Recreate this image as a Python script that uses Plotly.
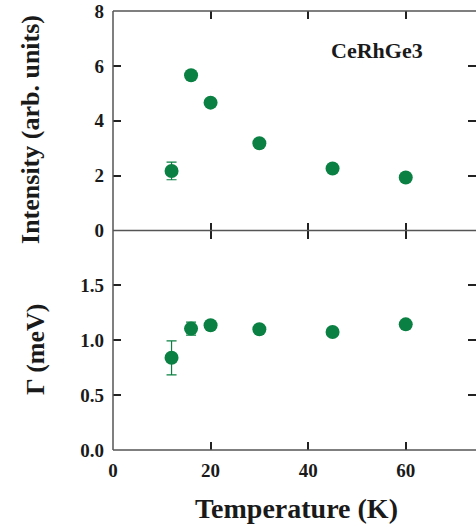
import plotly.graph_objects as go
from plotly.subplots import make_subplots

# Data
temperature = [12, 16, 20, 30, 45, 60]
intensity = [2.17, 5.66, 4.66, 3.18, 2.26, 1.93]
intensity_err = [0.32, 0, 0, 0, 0, 0]
gamma = [0.84, 1.106, 1.136, 1.10, 1.075, 1.145]
gamma_err = [0.155, 0.06, 0, 0, 0, 0]

x_ticks = [0, 20, 40, 60]
y1_ticks = [0, 2, 4, 6, 8]
y2_ticks = [0.0, 0.5, 1.0, 1.5]
y2_ticklabels = ["0.0", "0.5", "1.0", "1.5"]

GREEN = "#0a8043"
LINE = "#555555"
TICK = "#222222"
FONT = "Liberation Serif"

fig = make_subplots(rows=2, cols=1, shared_xaxes=True, vertical_spacing=0)

fig.add_trace(go.Scatter(
    x=temperature, y=intensity, mode="markers",
    marker=dict(color=GREEN, size=14),
    error_y=dict(type="data", array=intensity_err, color=GREEN, thickness=1.2, width=5),
    showlegend=False), row=1, col=1)

fig.add_trace(go.Scatter(
    x=temperature, y=gamma, mode="markers",
    marker=dict(color=GREEN, size=14),
    error_y=dict(type="data", array=gamma_err, color=GREEN, thickness=1.2, width=5),
    showlegend=False), row=2, col=1)

tickfont = dict(family=FONT, size=19, color="#1a1a1a", weight="bold")

for r in (1, 2):
    fig.update_xaxes(range=[0, 74.4], tickvals=x_ticks, ticks="inside", ticklen=8,
                     tickcolor=TICK, tickwidth=1.5,
                     showline=False, mirror="ticks",
                     showgrid=False, zeroline=False, tickfont=tickfont,
                     ticklabelstandoff=7, row=r, col=1)

fig.update_xaxes(showticklabels=False, row=1, col=1)

fig.update_yaxes(range=[0, 8], tickvals=y1_ticks, row=1, col=1)
fig.update_yaxes(range=[0, 2.0], tickvals=y2_ticks, ticktext=y2_ticklabels, row=2, col=1)
for r in (1, 2):
    fig.update_yaxes(ticks="inside", ticklen=8, tickcolor=TICK, tickwidth=1.5,
                     showline=False, mirror="ticks", showgrid=False, zeroline=False,
                     tickfont=tickfont, ticklabelstandoff=8, row=r, col=1)

# frame lines (left, top, middle, bottom)
frame = dict(color=LINE, width=1.5)
fig.add_shape(type="line", xref="paper", yref="paper", x0=0, x1=0, y0=0, y1=1, line=frame)
for yy in (0, 0.5, 1):
    fig.add_shape(type="line", xref="paper", yref="paper", x0=0, x1=1, y0=yy, y1=yy, line=frame)

titlefont = dict(family=FONT, size=26, color="#1a1a1a", weight="bold")
fig.add_annotation(text="Intensity (arb. units)", xref="paper", yref="paper",
                   x=0, y=0.729, xshift=-82, textangle=-90, showarrow=False,
                   xanchor="center", yanchor="middle", font=titlefont)
fig.add_annotation(text="Γ (meV)", xref="paper", yref="paper",
                   x=0, y=0.228, xshift=-77, textangle=-90, showarrow=False,
                   xanchor="center", yanchor="middle", font=titlefont)
fig.add_annotation(text="Temperature (K)", xref="paper", yref="paper",
                   x=0.5, y=-0.134, xshift=1.5, showarrow=False,
                   xanchor="center", yanchor="middle",
                   font=dict(family=FONT, size=28, color="#1a1a1a", weight="bold"))
fig.add_annotation(text="CeRhGe3", xref="x", yref="y", x=54.2, y=6.57,
                   showarrow=False, xanchor="center", yanchor="middle",
                   font=dict(family=FONT, size=22, color="#1a1a1a", weight="bold"))

fig.update_layout(width=476, height=528, margin=dict(l=113, r=0, t=11, b=78),
                  plot_bgcolor="white", paper_bgcolor="white")

fig.write_html("out.html")
